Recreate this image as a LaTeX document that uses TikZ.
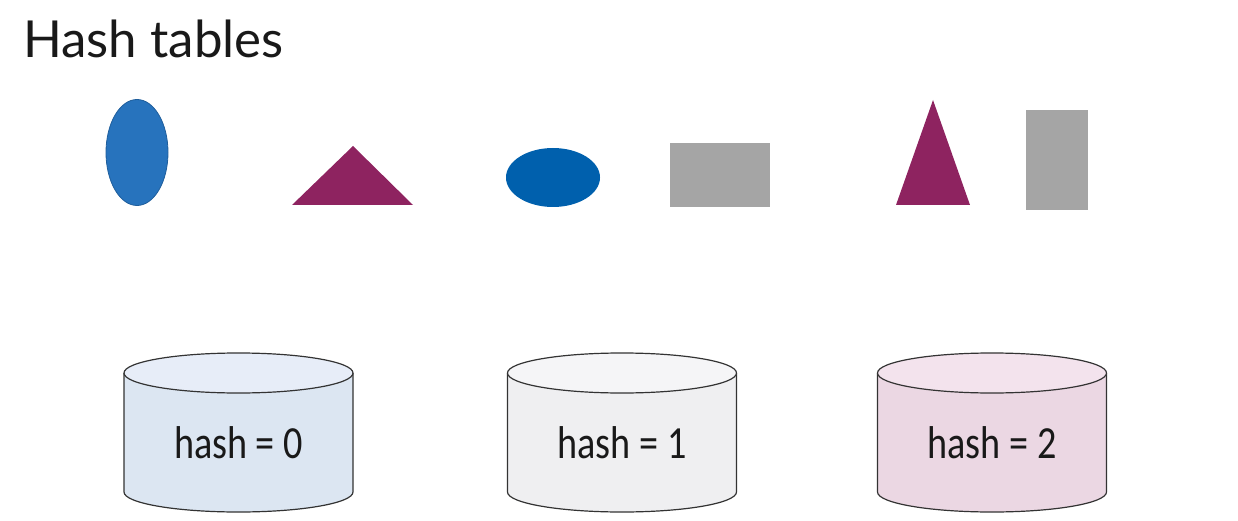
\documentclass[tikz,border=0pt]{standalone}
\usepackage{fontspec}
\setmainfont{Lato}
\newfontfamily\cylfont[FakeStretch=0.83]{Carlito}
\definecolor{blueA}{HTML}{2773BD}
\definecolor{blueAline}{HTML}{1F5E9C}
\definecolor{blueB}{HTML}{0060AD}
\definecolor{plum}{HTML}{8E2360}
\definecolor{grayshape}{HTML}{A5A5A5}
\definecolor{b0}{HTML}{DCE6F2}
\definecolor{t0}{HTML}{E7EDF8}
\definecolor{b1}{HTML}{EFEFF1}
\definecolor{t1}{HTML}{F5F5F7}
\definecolor{b2}{HTML}{EBD7E3}
\definecolor{t2}{HTML}{F3E3ED}
\definecolor{cylline}{HTML}{333333}
\tikzset{
  cylstroke/.style={draw=cylline, line width=1.2pt},
  hashlabel/.style={font=\cylfont\fontsize{46}{50}\selectfont, inner sep=0pt, anchor=base, text=black!90},
  titlestyle/.style={font=\fontsize{51}{56}\selectfont, inner sep=0pt, anchor=base west, text=black!90}
}
\begin{document}
\begin{tikzpicture}[x=1pt,y=-1pt]
\useasboundingbox (0,0) rectangle (1238,521);
\node[titlestyle] (title) at (23,57.5) {Hash tables};
% shapes
\filldraw[fill=blueA, draw=blueAline, line width=0.8pt] (137,152.5) ellipse [x radius=31pt, y radius=53pt];
\fill[plum] (292,205) -- (353,146) -- (413,205) -- cycle;
\fill[blueB] (553,177.5) ellipse [x radius=47pt, y radius=29.5pt];
\fill[grayshape] (670,143) rectangle (770,207);
\fill[plum] (896,205) -- (933,100) -- (970,205) -- cycle;
\fill[grayshape] (1026,110) rectangle (1088,210);
% cylinders
\foreach \cx/\bc/\tc/\n in {238.5/b0/t0/0, 622/b1/t1/1, 992/b2/t2/2} {
  \fill[\bc] (\cx-114.5,373) -- (\cx-114.5,492) arc[start angle=180, end angle=360, x radius=114.5pt, y radius=20pt] -- (\cx+114.5,373) -- cycle;
  \draw[cylstroke] (\cx-114.5,373) -- (\cx-114.5,492) arc[start angle=180, end angle=360, x radius=114.5pt, y radius=20pt] -- (\cx+114.5,373);
  \filldraw[cylstroke, fill=\tc] (\cx,373) ellipse [x radius=114.5pt, y radius=20pt];
  \node[hashlabel] (hash\n) at (\cx,458) {hash = \n};
}
\end{tikzpicture}
\end{document}
